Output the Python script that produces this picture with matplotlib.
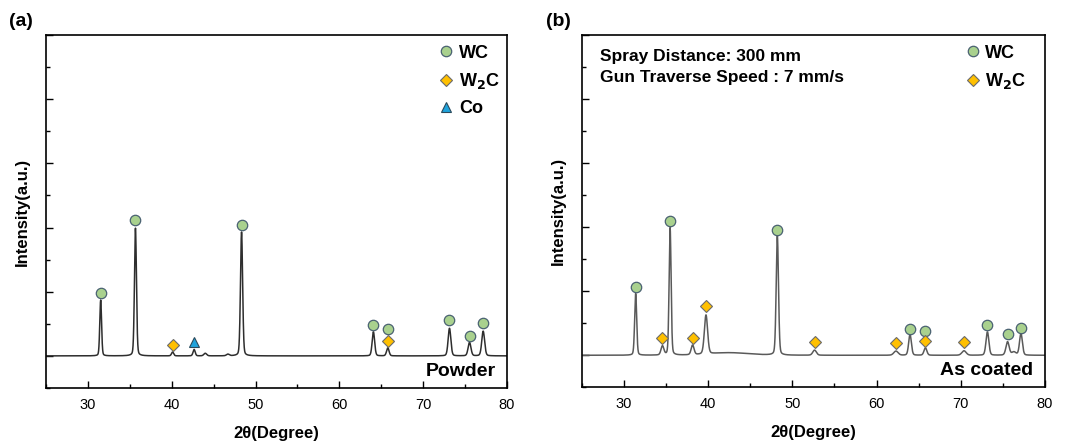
import numpy as np
import matplotlib.pyplot as plt
from matplotlib.lines import Line2D
from matplotlib.ticker import MultipleLocator

plt.rcParams['font.family'] = ['Liberation Sans', 'DejaVu Sans']

# ---- peak lists (2theta, height, FWHM) ----
# (a) powder
pos_a = [31.52, 35.67, 40.10, 42.67, 44.00, 46.70, 48.33, 64.06, 65.78, 73.14, 75.53, 77.16]
hgt_a = [1.74, 3.98, 0.12, 0.20, 0.08, 0.05, 3.86, 0.75, 0.25, 0.86, 0.42, 0.77]
fwhm_a = [0.25, 0.28, 0.30, 0.30, 0.40, 0.40, 0.30, 0.35, 0.35, 0.38, 0.40, 0.40]

# (b) as coated (last entry = broad amorphous hump after 40 deg)
pos_b = [31.40, 34.58, 35.49, 38.16, 39.75, 48.22, 52.64, 62.30, 63.97, 65.80, 70.38, 73.16, 75.55, 76.30, 77.14, 42.5]
hgt_b = [1.93, 0.28, 3.98, 0.30, 1.22, 3.72, 0.16, 0.13, 0.65, 0.23, 0.14, 0.73, 0.42, 0.10, 0.68, 0.08]
fwhm_b = [0.28, 0.40, 0.28, 0.40, 0.45, 0.32, 0.50, 0.60, 0.38, 0.40, 0.60, 0.40, 0.45, 0.60, 0.40, 5.5]

# ---- phase markers (2theta, y) ----
wc_a_x = [31.52, 35.67, 48.33, 64.06, 65.78, 73.14, 75.53, 77.16]
wc_a_y = [1.97, 4.22, 4.08, 0.96, 0.83, 1.12, 0.62, 1.01]
w2c_a_x = [40.10, 65.78]
w2c_a_y = [0.33, 0.47]
co_a_x = [42.67]
co_a_y = [0.42]

wc_b_x = [31.40, 35.49, 48.22, 63.97, 65.80, 73.16, 75.55, 77.14]
wc_b_y = [2.12, 4.20, 3.90, 0.83, 0.76, 0.94, 0.65, 0.85]
w2c_b_x = [34.58, 38.16, 39.75, 52.64, 62.30, 65.80, 70.38]
w2c_b_y = [0.54, 0.54, 1.53, 0.42, 0.38, 0.44, 0.42]

wc_style = dict(marker='o', ms=7.5, mfc='#a9d18e', mec='#4a6272', mew=0.9, ls='none')
w2c_style = dict(marker='D', ms=5.8, mfc='#ffc000', mec='#6b6b6b', mew=0.8, ls='none')
co_style = dict(marker='^', ms=6.5, mfc='#1fa3dc', mec='#2b4a5c', mew=0.8, ls='none')


def pattern(x, pos, hgt, fwhm):
    y = np.zeros_like(x)
    for c, h, w in zip(pos, hgt, fwhm):
        g = np.exp(-4 * np.log(2) * ((x - c) / w) ** 2)
        l = 1 / (1 + ((x - c) / (w / 2)) ** 2)
        y += h * (0.8 * g + 0.2 * l)
    return y


tt = np.linspace(25, 80, 5501)

fig = plt.figure(figsize=(10.68, 4.43), dpi=100)
ax1 = fig.add_axes([0.0431, 0.1242, 0.4316, 0.7968])
ax2 = fig.add_axes([0.5447, 0.1257, 0.4338, 0.7953])

ax1.plot(tt, pattern(tt, pos_a, hgt_a, fwhm_a), color='#2e2e2e', lw=1.1)
ax1.plot(wc_a_x, wc_a_y, **wc_style)
ax1.plot(w2c_a_x, w2c_a_y, **w2c_style)
ax1.plot(co_a_x, co_a_y, **co_style)

ax2.plot(tt, pattern(tt, pos_b, hgt_b, fwhm_b), color='#5a5a5a', lw=1.1)
ax2.plot(wc_b_x, wc_b_y, **wc_style)
ax2.plot(w2c_b_x, w2c_b_y, **w2c_style)

for ax in (ax1, ax2):
    ax.set_xlim(25, 80)
    ax.set_ylim(-1, 10)
    ax.xaxis.set_major_locator(MultipleLocator(10))
    ax.xaxis.set_minor_locator(MultipleLocator(5))
    ax.yaxis.set_major_locator(MultipleLocator(2))
    ax.yaxis.set_minor_locator(MultipleLocator(1))
    ax.set_yticklabels([])
    ax.tick_params(which='both', direction='in', top=False, right=False, labelsize=10.5)
    ax.tick_params(which='major', length=5, width=1)
    ax.tick_params(which='minor', length=3, width=1)
    ax.tick_params(axis='x', pad=7)
    for s in ax.spines.values():
        s.set_linewidth(1.2)
    ax.set_xlabel('2\u03b8(Degree)', fontsize=12, fontweight='bold', labelpad=10)
    ax.set_ylabel('Intensity(a.u.)', fontsize=12, fontweight='bold', labelpad=8)

h_wc = Line2D([], [], **wc_style)
h_w2c = Line2D([], [], **w2c_style)
h_co = Line2D([], [], **co_style)
leg_kw = dict(frameon=False, prop={'weight': 'bold', 'size': 13}, handletextpad=0.2,
              labelspacing=0.5, handlelength=1.0, borderpad=0.2)
ax1.legend([h_wc, h_w2c, h_co], ['WC', 'W$_\\mathbf{2}$C', 'Co'], loc='upper right',
           bbox_to_anchor=(1.012, 1.008), **leg_kw)
ax2.legend([h_wc, h_w2c], ['WC', 'W$_\\mathbf{2}$C'], loc='upper right',
           bbox_to_anchor=(0.987, 1.008), **leg_kw)

ax1.text(0.975, 0.047, 'Powder', transform=ax1.transAxes, ha='right', va='center',
         fontsize=14, fontweight='bold')
ax2.text(0.975, 0.047, 'As coated', transform=ax2.transAxes, ha='right', va='center',
         fontsize=14, fontweight='bold')
ax2.text(0.04, 0.96, 'Spray Distance: 300 mm\nGun Traverse Speed : 7 mm/s',
         transform=ax2.transAxes, ha='left', va='top', fontsize=12.5, fontweight='bold',
         linespacing=1.5)

fig.text(0.008, 0.952, '(a)', fontsize=14, fontweight='bold', va='center')
fig.text(0.511, 0.952, '(b)', fontsize=14, fontweight='bold', va='center')

fig.savefig('out.png', dpi=100)
